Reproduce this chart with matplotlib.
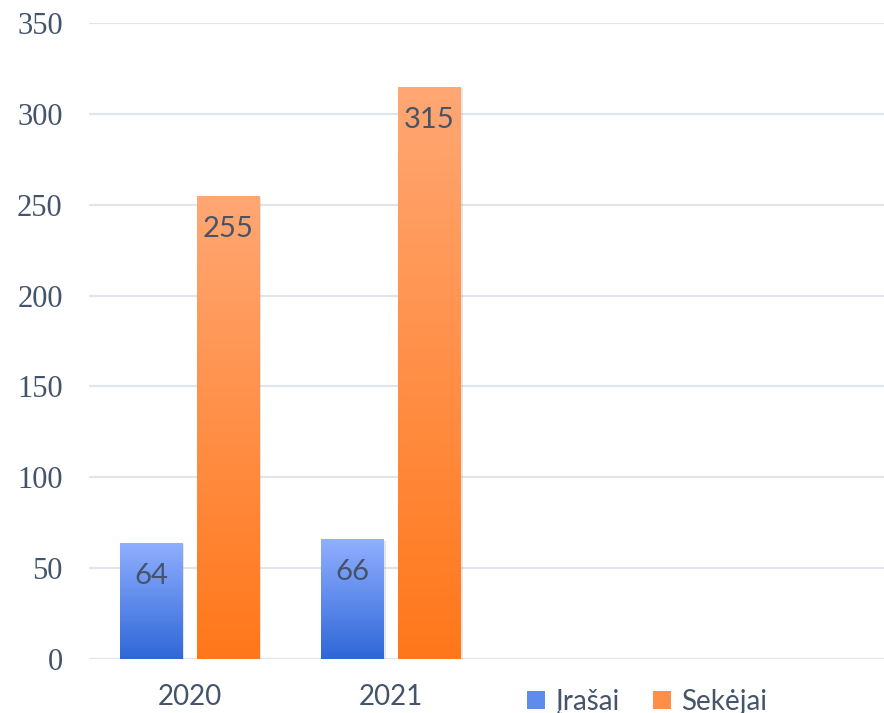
import numpy as np
import matplotlib.pyplot as plt
import matplotlib.patheffects as pe
from matplotlib.colors import LinearSegmentedColormap
from matplotlib.patches import Patch

years = ['2020', '2021', '', '']
irasai = [64, 66]
sekejai = [255, 315]
series_names = ['Įrašai', 'Sekėjai']

text_col = '#44546A'
grid_col = '#E1E5EA'

blue_cm = LinearSegmentedColormap.from_list('blue', ['#2F67D8', '#91AFFF'])
orange_cm = LinearSegmentedColormap.from_list('orange', ['#FF771A', '#FFA774'])

fig = plt.figure(figsize=(8.84, 7.13), dpi=100)
ax = fig.add_axes([0.1007, 0.0757, 0.8993, 0.892])

ax.set_ylim(0, 350)
ax.set_xlim(-0.5, 3.45)
ax.set_yticks(np.arange(0, 351, 50))
ax.set_xticks(np.arange(len(years)))
ax.set_xticklabels(years)
ax.yaxis.grid(True, color=grid_col, linewidth=1.6)
ax.set_axisbelow(True)
for s in ax.spines.values():
    s.set_visible(False)
ax.tick_params(axis='both', length=0, colors=text_col)
ax.tick_params(axis='y', pad=19, labelsize=22)
ax.tick_params(axis='x', pad=18, labelsize=20)
for lab in ax.get_yticklabels():
    lab.set_fontfamily('Liberation Serif')
for lab in ax.get_xticklabels():
    lab.set_fontfamily(['Lato', 'DejaVu Sans'])

width = 0.313
off = 0.1915
grad = np.linspace(0, 1, 256).reshape(-1, 1)


def grad_bars(xs, vals, cmap):
    bars = ax.bar(xs, vals, width=width, color=cmap(0.5), linewidth=0,
                  path_effects=[pe.SimplePatchShadow(offset=(1.2, -1.2), shadow_rgbFace='#AAAAAA', alpha=0.3),
                                pe.Normal()])
    for b in bars:
        x0, y0 = b.get_x(), b.get_y()
        im = ax.imshow(grad, cmap=cmap, aspect='auto', origin='lower',
                       extent=(x0, x0 + b.get_width(), y0, y0 + b.get_height()),
                       zorder=b.get_zorder() + 0.1)
        im.set_clip_path(b)
    for b, v in zip(bars, vals):
        ax.annotate(str(v), (b.get_x() + b.get_width() / 2, v), xytext=(0, -24),
                    textcoords='offset points', ha='center', va='center',
                    fontsize=21, color=text_col, family=['Lato', 'DejaVu Sans'], zorder=5)
    return bars


x = np.arange(len(irasai))
grad_bars(x - off, irasai, blue_cm)
grad_bars(x + off, sekejai, orange_cm)
ax.set_xlim(-0.5, 3.45)
ax.set_ylim(0, 350)

handles = [Patch(facecolor='#5F8BEC'), Patch(facecolor='#FF8F48')]
leg = ax.legend(handles, series_names, loc='center left', bbox_to_anchor=(0.52, -0.067),
                ncol=2, frameon=False, handlelength=0.65, handleheight=0.65,
                handletextpad=0.36, columnspacing=1.2,
                prop={'family': ['Lato', 'DejaVu Sans'], 'size': 20})
for t in leg.get_texts():
    t.set_color(text_col)

fig.savefig('out.png', dpi=100)
